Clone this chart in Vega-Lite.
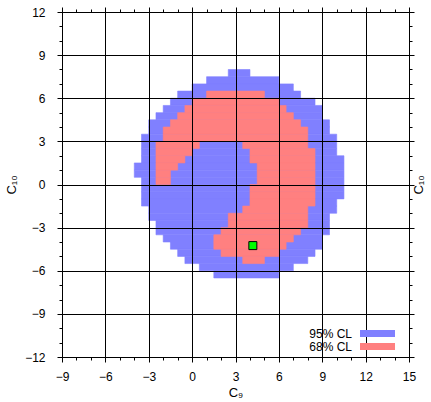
{
  "$schema": "https://vega.github.io/schema/vega-lite/v6.json",
  "width": 347,
  "height": 345,
  "autosize": {"type": "none"},
  "padding": {"left": 62, "top": 12, "right": 22, "bottom": 45},
  "background": "white",
  "config": {
    "view": {"stroke": null},
    "font": "Liberation Sans",
    "axis": {
      "domainColor": "black",
      "domainWidth": 1,
      "tickColor": "black",
      "tickWidth": 1,
      "labelColor": "black",
      "labelFont": "Liberation Sans",
      "labelFontSize": 12,
      "titleFont": "Liberation Sans",
      "titleFontSize": 13,
      "titleFontWeight": "normal",
      "titleColor": "black",
      "gridColor": "black",
      "gridWidth": 1,
      "labelFlush": false,
      "labelOverlap": false
    }
  },
  "datasets": {
    "cells": [
      {"c9lo": 2.5, "c9hi": 4, "c10lo": 7.5, "c10hi": 8, "cl": "95% CL"},
      {"c9lo": 1, "c9hi": 6, "c10lo": 7, "c10hi": 7.5, "cl": "95% CL"},
      {"c9lo": 0, "c9hi": 7, "c10lo": 6.5, "c10hi": 7, "cl": "95% CL"},
      {"c9lo": -1, "c9hi": 7.5, "c10lo": 6, "c10hi": 6.5, "cl": "95% CL"},
      {"c9lo": -1.5, "c9hi": 8.5, "c10lo": 5.5, "c10hi": 6, "cl": "95% CL"},
      {"c9lo": -2, "c9hi": 9, "c10lo": 5, "c10hi": 5.5, "cl": "95% CL"},
      {"c9lo": -2.5, "c9hi": 9, "c10lo": 4.5, "c10hi": 5, "cl": "95% CL"},
      {"c9lo": -3, "c9hi": 9.5, "c10lo": 4, "c10hi": 4.5, "cl": "95% CL"},
      {"c9lo": -3, "c9hi": 9.5, "c10lo": 3.5, "c10hi": 4, "cl": "95% CL"},
      {"c9lo": -3.5, "c9hi": 10, "c10lo": 3, "c10hi": 3.5, "cl": "95% CL"},
      {"c9lo": -3.5, "c9hi": 10, "c10lo": 2.5, "c10hi": 3, "cl": "95% CL"},
      {"c9lo": -3.5, "c9hi": 10, "c10lo": 2, "c10hi": 2.5, "cl": "95% CL"},
      {"c9lo": -3.5, "c9hi": 10.5, "c10lo": 1.5, "c10hi": 2, "cl": "95% CL"},
      {"c9lo": -4, "c9hi": 10.5, "c10lo": 1, "c10hi": 1.5, "cl": "95% CL"},
      {"c9lo": -4, "c9hi": 10.5, "c10lo": 0.5, "c10hi": 1, "cl": "95% CL"},
      {"c9lo": -3.5, "c9hi": 10.5, "c10lo": 0, "c10hi": 0.5, "cl": "95% CL"},
      {"c9lo": -3.5, "c9hi": 10.5, "c10lo": -0.5, "c10hi": 0, "cl": "95% CL"},
      {"c9lo": -3.5, "c9hi": 10.5, "c10lo": -1, "c10hi": -0.5, "cl": "95% CL"},
      {"c9lo": -3.5, "c9hi": 10, "c10lo": -1.5, "c10hi": -1, "cl": "95% CL"},
      {"c9lo": -3, "c9hi": 10, "c10lo": -2, "c10hi": -1.5, "cl": "95% CL"},
      {"c9lo": -3, "c9hi": 9.5, "c10lo": -2.5, "c10hi": -2, "cl": "95% CL"},
      {"c9lo": -2.5, "c9hi": 9.5, "c10lo": -3, "c10hi": -2.5, "cl": "95% CL"},
      {"c9lo": -2.5, "c9hi": 9.5, "c10lo": -3.5, "c10hi": -3, "cl": "95% CL"},
      {"c9lo": -2, "c9hi": 9, "c10lo": -4, "c10hi": -3.5, "cl": "95% CL"},
      {"c9lo": -1.5, "c9hi": 9, "c10lo": -4.5, "c10hi": -4, "cl": "95% CL"},
      {"c9lo": -1, "c9hi": 8.5, "c10lo": -5, "c10hi": -4.5, "cl": "95% CL"},
      {"c9lo": -0.5, "c9hi": 8, "c10lo": -5.5, "c10hi": -5, "cl": "95% CL"},
      {"c9lo": 0.5, "c9hi": 7, "c10lo": -6, "c10hi": -5.5, "cl": "95% CL"},
      {"c9lo": 1.5, "c9hi": 6, "c10lo": -6.5, "c10hi": -6, "cl": "95% CL"},
      {"c9lo": 1, "c9hi": 5, "c10lo": 6, "c10hi": 6.5, "cl": "68% CL"},
      {"c9lo": 0, "c9hi": 6, "c10lo": 5.5, "c10hi": 6, "cl": "68% CL"},
      {"c9lo": -0.5, "c9hi": 6.5, "c10lo": 5, "c10hi": 5.5, "cl": "68% CL"},
      {"c9lo": -1, "c9hi": 7, "c10lo": 4.5, "c10hi": 5, "cl": "68% CL"},
      {"c9lo": -1.5, "c9hi": 7.5, "c10lo": 4, "c10hi": 4.5, "cl": "68% CL"},
      {"c9lo": -2, "c9hi": 8, "c10lo": 3.5, "c10hi": 4, "cl": "68% CL"},
      {"c9lo": -2, "c9hi": 8, "c10lo": 3, "c10hi": 3.5, "cl": "68% CL"},
      {"c9lo": -2.5, "c9hi": 0.5, "c10lo": 2.5, "c10hi": 3, "cl": "68% CL"},
      {"c9lo": 3.5, "c9hi": 8, "c10lo": 2.5, "c10hi": 3, "cl": "68% CL"},
      {"c9lo": -2.5, "c9hi": 0, "c10lo": 2, "c10hi": 2.5, "cl": "68% CL"},
      {"c9lo": 4, "c9hi": 8.5, "c10lo": 2, "c10hi": 2.5, "cl": "68% CL"},
      {"c9lo": -2.5, "c9hi": -0.5, "c10lo": 1.5, "c10hi": 2, "cl": "68% CL"},
      {"c9lo": 4, "c9hi": 8.5, "c10lo": 1.5, "c10hi": 2, "cl": "68% CL"},
      {"c9lo": -2.5, "c9hi": -1, "c10lo": 1, "c10hi": 1.5, "cl": "68% CL"},
      {"c9lo": 4.5, "c9hi": 8.5, "c10lo": 1, "c10hi": 1.5, "cl": "68% CL"},
      {"c9lo": -2.5, "c9hi": -1.5, "c10lo": 0.5, "c10hi": 1, "cl": "68% CL"},
      {"c9lo": 4.5, "c9hi": 8.5, "c10lo": 0.5, "c10hi": 1, "cl": "68% CL"},
      {"c9lo": -2.5, "c9hi": -1.5, "c10lo": 0, "c10hi": 0.5, "cl": "68% CL"},
      {"c9lo": 4.5, "c9hi": 8.5, "c10lo": 0, "c10hi": 0.5, "cl": "68% CL"},
      {"c9lo": 4, "c9hi": 8.5, "c10lo": -0.5, "c10hi": 0, "cl": "68% CL"},
      {"c9lo": 4, "c9hi": 8.5, "c10lo": -1, "c10hi": -0.5, "cl": "68% CL"},
      {"c9lo": 4, "c9hi": 8.5, "c10lo": -1.5, "c10hi": -1, "cl": "68% CL"},
      {"c9lo": 3.5, "c9hi": 8, "c10lo": -2, "c10hi": -1.5, "cl": "68% CL"},
      {"c9lo": 2.5, "c9hi": 8, "c10lo": -2.5, "c10hi": -2, "cl": "68% CL"},
      {"c9lo": 2.5, "c9hi": 8, "c10lo": -3, "c10hi": -2.5, "cl": "68% CL"},
      {"c9lo": 2, "c9hi": 7.5, "c10lo": -3.5, "c10hi": -3, "cl": "68% CL"},
      {"c9lo": 1.5, "c9hi": 7, "c10lo": -4, "c10hi": -3.5, "cl": "68% CL"},
      {"c9lo": 1.5, "c9hi": 6.5, "c10lo": -4.5, "c10hi": -4, "cl": "68% CL"},
      {"c9lo": 2, "c9hi": 6, "c10lo": -5, "c10hi": -4.5, "cl": "68% CL"},
      {"c9lo": 3.5, "c9hi": 5, "c10lo": -5.5, "c10hi": -5, "cl": "68% CL"}
    ],
    "best": [{"c9": 4.2, "c10": -4.25}]
  },
  "layer": [
    {
      "data": {"name": "cells"},
      "mark": {"type": "rect", "strokeWidth": 0.6},
      "encoding": {
        "x": {
          "field": "c9lo", "type": "quantitative",
          "scale": {"domain": [-9, 15], "nice": false, "zero": false},
          "axis": {
            "orient": "bottom",
            "zindex": 1,
            "values": [-9,-8,-7,-6,-5,-4,-3,-2,-1,0,1,2,3,4,5,6,7,8,9,10,11,12,13,14,15],
            "title": "C₉",
            "titlePadding": 4,
            "labelPadding": 9,
            "labelExpr": "datum.value % 3 === 0 ? datum.label : ''",
            "grid": true,
            "gridOpacity": {"condition": {"test": "datum.value % 3 === 0", "value": 1}, "value": 0},
            "tickSize": {"condition": {"test": "datum.value % 3 === 0", "value": 5}, "value": 3}
          }
        },
        "x2": {"field": "c9hi"},
        "y": {
          "field": "c10lo", "type": "quantitative",
          "scale": {"domain": [-12, 12], "nice": false, "zero": false},
          "axis": {
            "orient": "left",
            "zindex": 1,
            "values": [-12,-11,-10,-9,-8,-7,-6,-5,-4,-3,-2,-1,0,1,2,3,4,5,6,7,8,9,10,11,12],
            "title": "C₁₀",
            "titlePadding": 6,
            "labelPadding": 12,
            "labelExpr": "datum.value % 3 === 0 ? datum.label : ''",
            "grid": true,
            "gridOpacity": {"condition": {"test": "datum.value % 3 === 0", "value": 1}, "value": 0},
            "tickSize": {"condition": {"test": "datum.value % 3 === 0", "value": 5}, "value": 3}
          }
        },
        "y2": {"field": "c10hi"},
        "color": {
          "field": "cl", "type": "nominal",
          "scale": {"domain": ["95% CL", "68% CL"], "range": ["#8080ff", "#ff8080"]},
          "legend": {
            "orient": "none",
            "legendX": 309.5,
            "legendY": 315.5,
            "title": null,
            "symbolType": "M-5,-1H5V1H-5Z",
            "symbolSize": 49,
            "symbolStrokeWidth": 0,
            "symbolOpacity": 1,
            "labelAlign": "right",
            "labelOffset": -31.5,
            "labelFontSize": 12,
            "labelColor": "black",
            "labelFont": "Liberation Sans",
            "padding": 0,
            "rowPadding": 1,
            "fillColor": "white",
            "zindex": 2
          }
        },
        "stroke": {
          "field": "cl", "type": "nominal",
          "scale": {"domain": ["95% CL", "68% CL"], "range": ["#8080ff", "#ff8080"]},
          "legend": null
        },
        "opacity": {"value": 1}
      }
    },
    {
      "data": {"name": "best"},
      "mark": {"type": "point", "shape": "square", "filled": true, "fill": "#00ff00", "stroke": "black", "strokeWidth": 1, "size": 64, "opacity": 1},
      "encoding": {
        "x": {
          "field": "c9", "type": "quantitative",
          "axis": {
            "orient": "top",
            "zindex": 1,
            "values": [-9,-8,-7,-6,-5,-4,-3,-2,-1,0,1,2,3,4,5,6,7,8,9,10,11,12,13,14,15],
            "title": null,
            "labels": false,
            "grid": false,
            "tickSize": {"condition": {"test": "datum.value % 3 === 0", "value": 5}, "value": 3}
          }
        },
        "y": {
          "field": "c10", "type": "quantitative",
          "axis": {
            "orient": "right",
            "zindex": 1,
            "values": [-12,-11,-10,-9,-8,-7,-6,-5,-4,-3,-2,-1,0,1,2,3,4,5,6,7,8,9,10,11,12],
            "title": "C₁₀",
            "titleAngle": 270,
            "titlePadding": 11,
            "labels": false,
            "grid": false,
            "tickSize": {"condition": {"test": "datum.value % 3 === 0", "value": 5}, "value": 3}
          }
        }
      }
    }
  ],
  "resolve": {"axis": {"x": "independent", "y": "independent"}}
}
